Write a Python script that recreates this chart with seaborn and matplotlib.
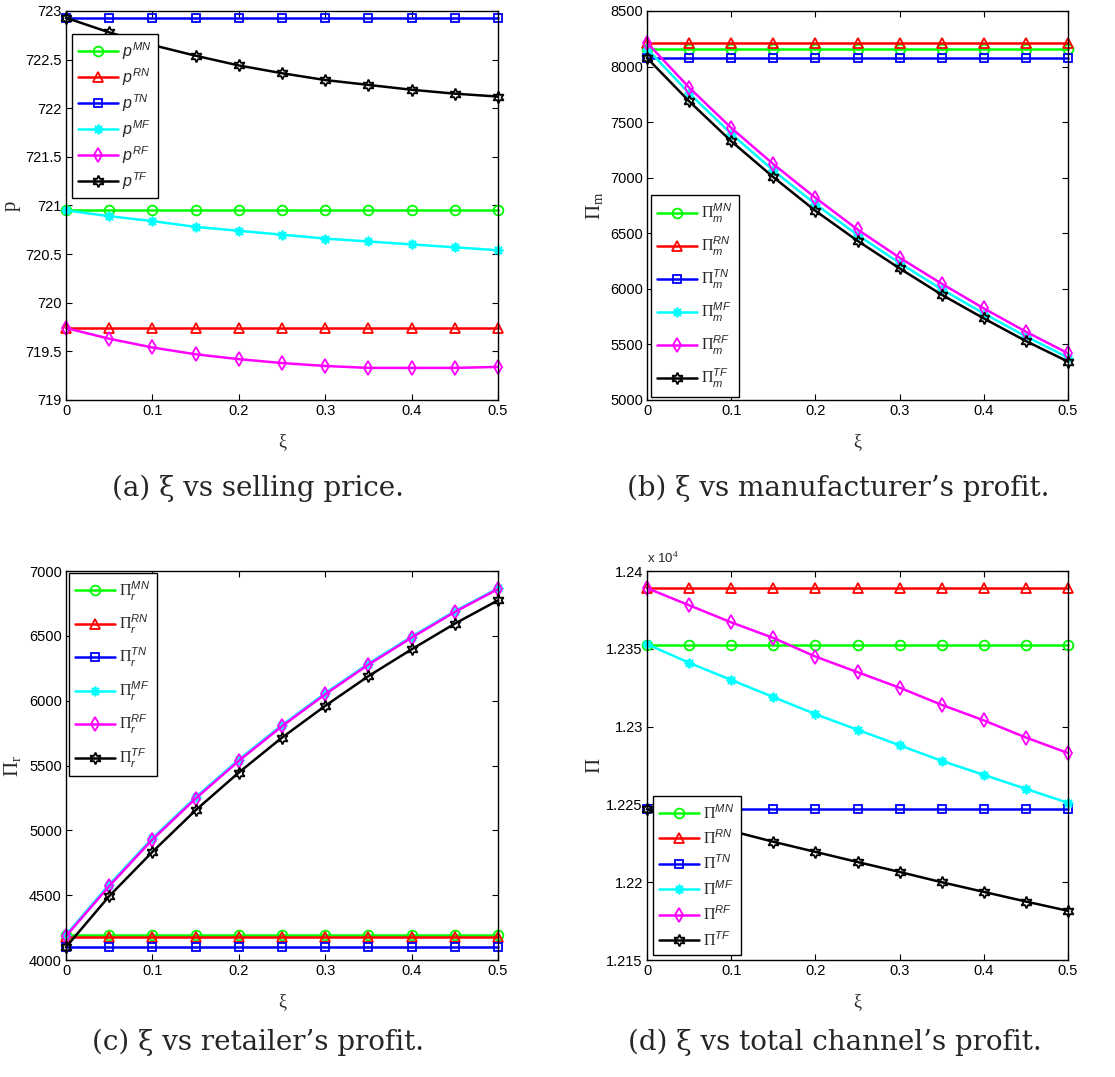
import numpy as np
import pandas as pd
import seaborn as sns
import matplotlib
matplotlib.use("Agg")
import matplotlib.pyplot as plt
from matplotlib.ticker import FuncFormatter, MultipleLocator

# ---------------- data ----------------
xi = [0.0, 0.05, 0.10, 0.15, 0.20, 0.25, 0.30, 0.35, 0.40, 0.45, 0.50]
series_keys = ["MN", "RN", "TN", "MF", "RF", "TF"]

# (a) selling price
p_MN = [720.95] * 11
p_RN = [719.74] * 11
p_TN = [722.93] * 11
p_MF = [720.95, 720.89, 720.84, 720.78, 720.74, 720.70, 720.66, 720.63, 720.60, 720.57, 720.54]
p_RF = [719.74, 719.63, 719.54, 719.47, 719.42, 719.38, 719.35, 719.33, 719.33, 719.33, 719.34]
p_TF = [722.93, 722.78, 722.65, 722.54, 722.44, 722.36, 722.29, 722.24, 722.19, 722.15, 722.12]

# (b) manufacturer's profit
pim_MN = [8161] * 11
pim_RN = [8215] * 11
pim_TN = [8077] * 11
pim_MF = [8161, 7760, 7395, 7065, 6762, 6485, 6232, 5996, 5778, 5572, 5382]
pim_RF = [8215, 7811, 7448, 7122, 6819, 6534, 6280, 6046, 5824, 5614, 5420]
pim_TF = [8077, 7688, 7328, 7005, 6702, 6432, 6184, 5947, 5734, 5530, 5345]

# (c) retailer's profit
pir_MN = [4190] * 11
pir_RN = [4175] * 11
pir_TN = [4100] * 11
pir_MF = [4195, 4582, 4940, 5255, 5546, 5812, 6058, 6286, 6494, 6691, 6867]
pir_RF = [4185, 4570, 4929, 5245, 5536, 5803, 6049, 6278, 6486, 6684, 6861]
pir_TF = [4100, 4493, 4834, 5155, 5446, 5715, 5960, 6189, 6396, 6594, 6774]

# (d) total channel's profit
pi_MN = [12352.7] * 11
pi_RN = [12389.3] * 11
pi_TN = [12247.0] * 11
pi_MF = [12353, 12341, 12330, 12319, 12308, 12298, 12288, 12278, 12269, 12260, 12251]
pi_RF = [12389, 12378, 12367, 12357, 12345, 12335, 12325, 12314, 12304, 12293, 12283]
pi_TF = [12247, 12240, 12233, 12226, 12219.5, 12213, 12206.6, 12200, 12193.8, 12187.6, 12181.6]

captions = [r"(a) ξ vs selling price.", r"(b) ξ vs manufacturer’s profit.",
            r"(c) ξ vs retailer’s profit.", r"(d) ξ vs total channel’s profit."]

# ---------------- style ----------------
sns.set_style("ticks")
plt.rcParams["font.family"] = ["Liberation Sans", "DejaVu Sans"]
plt.rcParams["mathtext.fontset"] = "custom"
plt.rcParams["mathtext.rm"] = "Liberation Serif"
plt.rcParams["mathtext.it"] = "Liberation Sans:italic"
plt.rcParams["mathtext.bf"] = "Liberation Sans:bold"

colors = {"MN": (0, 1, 0), "RN": (1, 0, 0), "TN": (0, 0, 1),
          "MF": (0, 1, 1), "RF": (1, 0, 1), "TF": (0, 0, 0)}
markers = {"MN": "o", "RN": "^", "TN": "s", "MF": (8, 2, 0), "RF": "d", "TF": (6, 1, 0)}
msize = {"MN": 7, "RN": 7.5, "TN": 6.3, "MF": 7, "RF": 7.5, "TF": 8.5}

fig = plt.figure(figsize=(11.15, 10.77), dpi=100)

panels = [
    dict(rect=[0.0592, 0.6286, 0.3874, 0.3612],
         data=[p_MN, p_RN, p_TN, p_MF, p_RF, p_TF],
         labels=[r"$p^{%s}$" % k for k in series_keys],
         ylim=(719, 723), ystep=0.5, ylabel="p", fmt=lambda v, _: f"{v:g}",
         leg=dict(loc="upper left", bbox_to_anchor=(0.014, 0.941), labelspacing=0.27),
         ylabx=-0.105),
    dict(rect=[0.5803, 0.6286, 0.3776, 0.3612],
         data=[pim_MN, pim_RN, pim_TN, pim_MF, pim_RF, pim_TF],
         labels=[r"$\Pi_{m}^{%s}$" % k for k in series_keys],
         ylim=(5000, 8500), ystep=500, ylabel=r"$\Pi_{\mathrm{m}}$", fmt=lambda v, _: f"{v:g}",
         leg=dict(loc="lower left", bbox_to_anchor=(0.0095, 0.008), labelspacing=0.62),
         ylabx=-0.097),
    dict(rect=[0.0592, 0.1086, 0.3874, 0.3612],
         data=[pir_MN, pir_RN, pir_TN, pir_MF, pir_RF, pir_TF],
         labels=[r"$\Pi_{r}^{%s}$" % k for k in series_keys],
         ylim=(4000, 7000), ystep=500, ylabel=r"$\Pi_{\mathrm{r}}$", fmt=lambda v, _: f"{v:g}",
         leg=dict(loc="upper left", bbox_to_anchor=(0.007, 0.995), labelspacing=0.64),
         ylabx=-0.097),
    dict(rect=[0.5803, 0.1086, 0.3776, 0.3612],
         data=[pi_MN, pi_RN, pi_TN, pi_MF, pi_RF, pi_TF],
         labels=[r"$\Pi^{%s}$" % k for k in series_keys],
         ylim=(12150, 12400), ystep=50, ylabel=r"$\Pi$", fmt=lambda v, _: f"{v / 1e4:g}",
         leg=dict(loc="lower left", bbox_to_anchor=(0.014, 0.013), labelspacing=0.42),
         ylabx=-0.1),
]

for i, pn in enumerate(panels):
    ax = fig.add_axes(pn["rect"])
    for key, vals, lab in zip(series_keys, pn["data"], pn["labels"]):
        df = pd.DataFrame({"xi": xi, "v": vals})
        sns.lineplot(data=df, x="xi", y="v", ax=ax, color=colors[key], lw=1.8,
                     marker=markers[key], markersize=msize[key],
                     markerfacecolor="none", markeredgecolor=colors[key],
                     markeredgewidth=1.3, label=lab, clip_on=False)
    ax.set_xlim(0, 0.5)
    ax.set_ylim(*pn["ylim"])
    ax.xaxis.set_major_locator(MultipleLocator(0.1))
    ax.yaxis.set_major_locator(MultipleLocator(pn["ystep"]))
    ax.xaxis.set_major_formatter(FuncFormatter(lambda v, _: f"{v:g}"))
    ax.yaxis.set_major_formatter(FuncFormatter(pn["fmt"]))
    ax.tick_params(direction="in", top=True, right=True, length=4, width=0.8,
                   labelsize=10.5, pad=3, colors="black")
    for s in ax.spines.values():
        s.set_visible(True)
        s.set_linewidth(1.0)
        s.set_color("black")
    ax.set_xlabel("ξ", fontsize=13, family="Liberation Serif")
    ax.xaxis.set_label_coords(0.5, -0.085)
    ax.set_ylabel(pn["ylabel"], fontsize=15, family="Liberation Serif")
    ax.yaxis.set_label_coords(pn["ylabx"], 0.5)
    leg = ax.legend(fontsize=11.5, frameon=True, fancybox=False, edgecolor="black",
                    handlelength=2.5, handletextpad=0.25, borderpad=0.4,
                    borderaxespad=0.0, **pn["leg"])
    leg.get_frame().set_linewidth(1.0)
    leg.get_frame().set_alpha(1)
    leg.set_zorder(10)
    if i == 3:
        ax.text(0.0, 1.012, r"x 10$^{4}$", transform=ax.transAxes, fontsize=9.5,
                ha="left", va="bottom")

# captions
fig.text(0.231, 1 - 488 / 1077, captions[0], ha="center", va="center",
         fontsize=20, family="DejaVu Serif")
fig.text(0.752, 1 - 488 / 1077, captions[1], ha="center", va="center",
         fontsize=20, family="DejaVu Serif")
fig.text(0.231, 1 - 1042 / 1077, captions[2], ha="center", va="center",
         fontsize=20, family="DejaVu Serif")
fig.text(0.749, 1 - 1042 / 1077, captions[3], ha="center", va="center",
         fontsize=20, family="DejaVu Serif")

fig.savefig("out.png", dpi=100, facecolor="white")
